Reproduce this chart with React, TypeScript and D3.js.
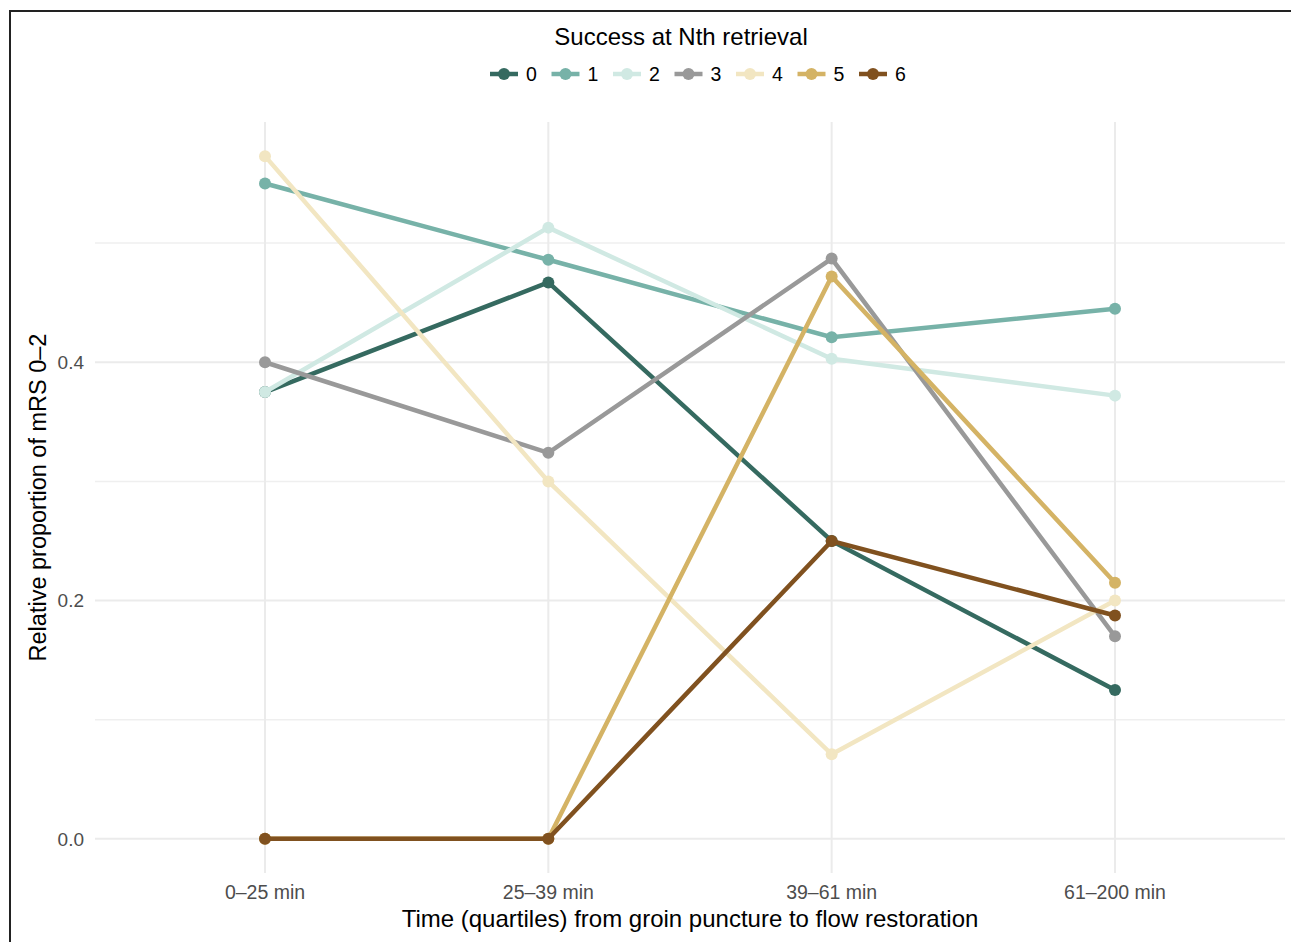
import React, { useRef, useEffect } from 'react';
import * as d3 from 'd3';

const categories = ['0–25 min', '25–39 min', '39–61 min', '61–200 min'];
const seriesNames = ['0', '1', '2', '3', '4', '5', '6'];
const seriesColors = ['#356a60', '#77b2a8', '#d0e9e3', '#999999', '#f2e6c2', '#d4b365', '#80511f'];

const s0 = [0.375, 0.467, 0.25, 0.125];
const s1 = [0.55, 0.486, 0.421, 0.445];
const s2 = [0.375, 0.513, 0.403, 0.372];
const s3 = [0.4, 0.324, 0.487, 0.17];
const s4 = [0.573, 0.3, 0.071, 0.2];
const s5 = [0, 0, 0.472, 0.215];
const s6 = [0, 0, 0.25, 0.1875];
const seriesValues = [s0, s1, s2, s3, s4, s5, s6];

const yMajorTicks = [0, 0.2, 0.4];
const yMinorTicks = [0.1, 0.3, 0.5];

const W = 1291;
const H = 942;
const FONT = "'Liberation Sans', Arial, Helvetica, sans-serif";

export default function App() {
  const svgRef = useRef<SVGSVGElement>(null);

  useEffect(() => {
    const svg = d3.select(svgRef.current);
    svg.selectAll('*').remove();

    const panel = { left: 95, right: 1285, top: 122, bottom: 873 };

    const x = d3.scalePoint<string>()
      .domain(categories)
      .range([panel.left, panel.right])
      .padding(0.6);

    const allVals = seriesValues.flat();
    const yMax = d3.max(allVals) as number;
    const pad = yMax * 0.05;
    const y = d3.scaleLinear()
      .domain([-pad, yMax + pad])
      .range([panel.bottom, panel.top]);

    svg.append('rect').attr('width', W).attr('height', H).attr('fill', '#ffffff');

    // grid
    const grid = svg.append('g');
    yMinorTicks.forEach(t => {
      grid.append('line')
        .attr('x1', panel.left).attr('x2', panel.right)
        .attr('y1', y(t)).attr('y2', y(t))
        .attr('stroke', '#efefef').attr('stroke-width', 1.5);
    });
    yMajorTicks.forEach(t => {
      grid.append('line')
        .attr('x1', panel.left).attr('x2', panel.right)
        .attr('y1', y(t)).attr('y2', y(t))
        .attr('stroke', '#ebebeb').attr('stroke-width', 2);
    });
    categories.forEach(c => {
      grid.append('line')
        .attr('x1', x(c)).attr('x2', x(c))
        .attr('y1', panel.top).attr('y2', panel.bottom)
        .attr('stroke', '#ebebeb').attr('stroke-width', 2);
    });

    // axis labels
    svg.append('g')
      .selectAll('text')
      .data(yMajorTicks)
      .join('text')
      .attr('x', 84)
      .attr('y', d => y(d))
      .attr('dy', '0.35em')
      .attr('text-anchor', 'end')
      .attr('fill', '#4d4d4d')
      .style('font-family', FONT)
      .style('font-size', '19px')
      .text(d => d3.format('.1f')(d));

    svg.append('g')
      .selectAll('text')
      .data(categories)
      .join('text')
      .attr('x', d => x(d) as number)
      .attr('y', 899)
      .attr('text-anchor', 'middle')
      .attr('fill', '#4d4d4d')
      .style('font-family', FONT)
      .style('font-size', '19.5px')
      .text(d => d);

    svg.append('text')
      .attr('x', (panel.left + panel.right) / 2)
      .attr('y', 927)
      .attr('text-anchor', 'middle')
      .attr('fill', '#000')
      .style('font-family', FONT)
      .style('font-size', '24px')
      .text('Time (quartiles) from groin puncture to flow restoration');

    svg.append('text')
      .attr('transform', `translate(46,${(panel.top + panel.bottom) / 2}) rotate(-90)`)
      .attr('text-anchor', 'middle')
      .attr('fill', '#000')
      .style('font-family', FONT)
      .style('font-size', '23.5px')
      .text('Relative proportion of mRS 0–2');

    // lines and points
    const line = d3.line<number>()
      .x((_, i) => x(categories[i]) as number)
      .y(d => y(d));

    seriesValues.forEach((vals, si) => {
      const g = svg.append('g');
      g.append('path')
        .datum(vals)
        .attr('fill', 'none')
        .attr('stroke', seriesColors[si])
        .attr('stroke-width', 4.5)
        .attr('d', line);
      g.selectAll('circle')
        .data(vals)
        .join('circle')
        .attr('cx', (_, i) => x(categories[i]) as number)
        .attr('cy', d => y(d))
        .attr('r', 6)
        .attr('fill', seriesColors[si]);
    });

    // legend
    svg.append('text')
      .attr('x', 681)
      .attr('y', 45)
      .attr('text-anchor', 'middle')
      .attr('fill', '#000')
      .style('font-family', FONT)
      .style('font-size', '24px')
      .text('Success at Nth retrieval');

    const legend = svg.append('g');
    const step = 61.5;
    seriesNames.forEach((name, i) => {
      const cx = 504 + i * step;
      legend.append('line')
        .attr('x1', cx - 14).attr('x2', cx + 14)
        .attr('y1', 74).attr('y2', 74)
        .attr('stroke', seriesColors[i]).attr('stroke-width', 4.5);
      legend.append('circle')
        .attr('cx', cx).attr('cy', 74).attr('r', 6)
        .attr('fill', seriesColors[i]);
      legend.append('text')
        .attr('x', cx + 22)
        .attr('y', 74)
        .attr('dy', '0.35em')
        .attr('fill', '#000')
        .style('font-family', FONT)
        .style('font-size', '19.5px')
        .text(name);
    });

    // frame (left and top edges)
    svg.append('line')
      .attr('x1', 10).attr('x2', 10).attr('y1', 10).attr('y2', H)
      .attr('stroke', '#222').attr('stroke-width', 2);
    svg.append('line')
      .attr('x1', 9).attr('x2', W).attr('y1', 11).attr('y2', 11)
      .attr('stroke', '#222').attr('stroke-width', 2);
  }, []);

  return (
    <div style={{ position: 'fixed', left: 0, top: 0 }}>
      <svg ref={svgRef} width={W} height={H} style={{ display: 'block' }}></svg>
    </div>
  );
}
